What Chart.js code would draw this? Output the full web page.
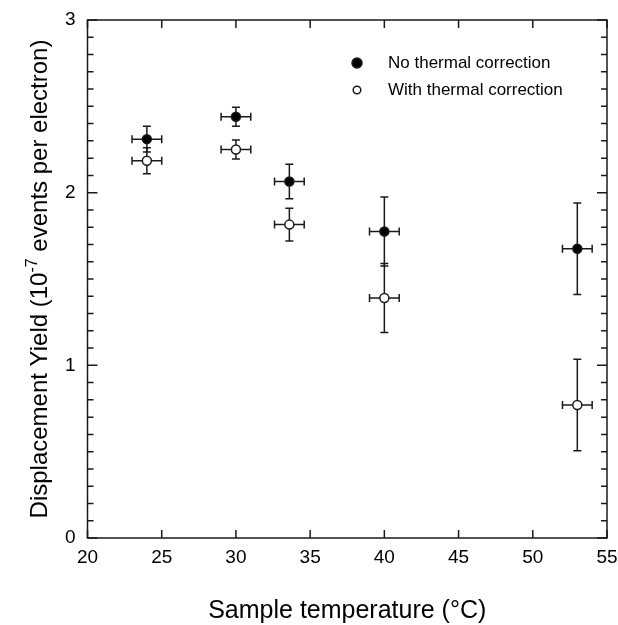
<!DOCTYPE html>
<html>
<head>
<meta charset="utf-8">
<script src="https://cdn.jsdelivr.net/npm/chart.js@4"></script>
<style>
  body { margin: 0; background: #fff; }
  canvas { display: block; }
</style>
</head>
<body>
<canvas id="chart" width="618" height="625"></canvas>
<script>
// values
const temps = [24, 30, 33.6, 40, 53];
const tempErr = [1, 1, 1, 1, 1];
const yieldNoCorr = [2.31, 2.44, 2.065, 1.775, 1.675];
const errNoCorr = [0.075, 0.055, 0.1, 0.2, 0.265];
const yieldWithCorr = [2.185, 2.25, 1.815, 1.39, 0.77];
const errWithCorr = [0.075, 0.055, 0.095, 0.2, 0.265];
const xTicks = [20, 25, 30, 35, 40, 45, 50, 55];
const yTicks = [0, 1, 2, 3];

const FONT = '"Liberation Sans", Arial, Helvetica, sans-serif';
const INK = '#1a1a1a';

function toPoints(xs, ys, xe, ye) {
    return xs.map(function (x, i) {
        return { x: x, y: ys[i], xErr: xe[i], yErr: ye[i] };
    });
}

// error bars go behind the markers
const errorBars = {
    id: 'errorBars',
    beforeDatasetsDraw: function (chart) {
        const ctx = chart.ctx;
        const xs = chart.scales.x, ys = chart.scales.y;
        const cap = 4;
        ctx.save();
        ctx.strokeStyle = INK;
        ctx.lineWidth = 1.5;
        chart.data.datasets.forEach(function (ds) {
            ds.data.forEach(function (p) {
                const px = xs.getPixelForValue(p.x);
                const py = ys.getPixelForValue(p.y);
                const x0 = xs.getPixelForValue(p.x - p.xErr);
                const x1 = xs.getPixelForValue(p.x + p.xErr);
                const y0 = ys.getPixelForValue(p.y - p.yErr);
                const y1 = ys.getPixelForValue(p.y + p.yErr);
                ctx.beginPath();
                ctx.moveTo(x0, py); ctx.lineTo(x1, py);
                ctx.moveTo(x0, py - cap); ctx.lineTo(x0, py + cap);
                ctx.moveTo(x1, py - cap); ctx.lineTo(x1, py + cap);
                ctx.moveTo(px, y0); ctx.lineTo(px, y1);
                ctx.moveTo(px - cap, y0); ctx.lineTo(px + cap, y0);
                ctx.moveTo(px - cap, y1); ctx.lineTo(px + cap, y1);
                ctx.stroke();
            });
        });
        ctx.restore();
    }
};

// box frame, inward ticks, titles and legend
const frame = {
    id: 'frame',
    afterDraw: function (chart) {
        const ctx = chart.ctx;
        const a = chart.chartArea;
        const xs = chart.scales.x, ys = chart.scales.y;
        ctx.save();
        ctx.strokeStyle = INK;
        ctx.lineWidth = 1.5;
        ctx.strokeRect(a.left, a.top, a.right - a.left, a.bottom - a.top);

        ctx.beginPath();
        xTicks.forEach(function (v) {
            const x = xs.getPixelForValue(v);
            ctx.moveTo(x, a.bottom); ctx.lineTo(x, a.bottom - 8);
            ctx.moveTo(x, a.top); ctx.lineTo(x, a.top + 8);
        });
        for (let i = 0; i <= 30; i++) {
            const y = ys.getPixelForValue(i / 10);
            const len = i % 10 === 0 ? 10 : 6;
            ctx.moveTo(a.left, y); ctx.lineTo(a.left + len, y);
            ctx.moveTo(a.right, y); ctx.lineTo(a.right - len, y);
        }
        ctx.stroke();

        // axis titles
        ctx.fillStyle = '#000';
        ctx.textBaseline = 'alphabetic';
        ctx.font = '25px ' + FONT;
        ctx.textAlign = 'center';
        ctx.fillText('Sample temperature (°C)', (a.left + a.right) / 2, 618);

        ctx.save();
        ctx.translate(47, (a.top + a.bottom) / 2);
        ctx.rotate(-Math.PI / 2);
        const big = '24px ' + FONT, small = '16px ' + FONT;
        const p1 = 'Displacement Yield (10', sup = '-7', p2 = ' events per electron)';
        ctx.font = big;
        const w1 = ctx.measureText(p1).width, w3 = ctx.measureText(p2).width;
        ctx.font = small;
        const w2 = ctx.measureText(sup).width;
        let x = -(w1 + w2 + w3) / 2;
        ctx.textAlign = 'left';
        ctx.font = big; ctx.fillText(p1, x, 0); x += w1;
        ctx.font = small; ctx.fillText(sup, x, -10); x += w2;
        ctx.font = big; ctx.fillText(p2, x, 0);
        ctx.restore();

        // legend
        ctx.font = '17px ' + FONT;
        ctx.textAlign = 'left';
        ctx.textBaseline = 'middle';
        chart.data.datasets.forEach(function (ds, i) {
            const ly = 63 + i * 27;
            ctx.beginPath();
            ctx.arc(357, ly, i === 0 ? 5 : 3.8, 0, Math.PI * 2);
            ctx.fillStyle = ds.backgroundColor;
            ctx.fill();
            ctx.lineWidth = 1.5;
            ctx.stroke();
            ctx.fillStyle = '#000';
            ctx.fillText(ds.label, 388, ly);
        });
        ctx.restore();
    }
};

const ctx = document.getElementById('chart').getContext('2d');
const chart = new Chart(ctx, {
    type: 'scatter',
    data: {
        datasets: [{
            label: 'No thermal correction',
            data: toPoints(temps, yieldNoCorr, tempErr, errNoCorr),
            backgroundColor: '#000',
            borderColor: INK,
            borderWidth: 1.5,
            pointRadius: 4.5
        }, {
            label: 'With thermal correction',
            data: toPoints(temps, yieldWithCorr, tempErr, errWithCorr),
            backgroundColor: '#fff',
            borderColor: INK,
            borderWidth: 1.5,
            pointRadius: 4.5
        }]
    },
    options: {
        responsive: false,
        animation: false,
        layout: { padding: { left: 0, top: 20, right: 11, bottom: 0 } },
        plugins: {
            legend: { display: false },
            tooltip: { enabled: false }
        },
        scales: {
            x: {
                type: 'linear',
                min: 20,
                max: 55,
                afterBuildTicks: function (s) { s.ticks = xTicks.map(function (v) { return { value: v }; }); },
                afterFit: function (s) { s.height = 87; s.paddingLeft = 0; s.paddingRight = 0; },
                grid: { display: false, drawTicks: false },
                border: { display: false },
                ticks: { color: '#000', padding: 8, maxRotation: 0, font: { size: 19, family: FONT } }
            },
            y: {
                min: 0,
                max: 3,
                afterBuildTicks: function (s) { s.ticks = yTicks.map(function (v) { return { value: v }; }); },
                afterFit: function (s) { s.width = 87.5; s.paddingTop = 0; s.paddingBottom = 0; },
                grid: { display: false, drawTicks: false },
                border: { display: false },
                ticks: { color: '#000', padding: 12, font: { size: 19, family: FONT } }
            }
        }
    },
    plugins: [errorBars, frame]
});
</script>
</body>
</html>
